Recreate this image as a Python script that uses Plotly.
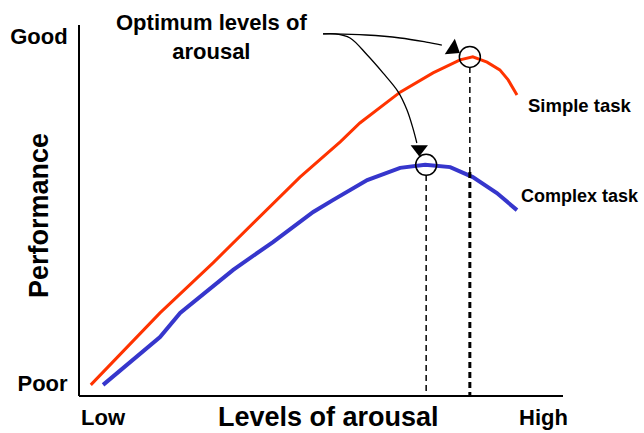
import plotly.graph_objects as go

# ---- data (axis units: x 0..100 = Low..High, y 0..100 = Poor..Good) ----
simple_x = [2.2, 16.3, 27.1, 34.6, 44.8, 53.0, 57.0, 65.2, 71.9, 77.4, 80.0, 82.9, 85.5, 87.2, 89.0]
simple_y = [3.0, 22.4, 35.9, 45.6, 59.0, 68.5, 73.6, 81.9, 87.1, 90.6, 91.4, 90.0, 87.9, 85.2, 81.1]

complex_x = [4.7, 16.3, 20.4, 31.2, 39.3, 47.5, 51.5, 58.5, 65.2, 70.3, 75.4, 80.0, 84.9, 89.0]
complex_y = [3.0, 15.9, 22.4, 34.0, 41.5, 49.6, 52.8, 58.2, 61.5, 62.3, 61.7, 59.0, 54.7, 50.1]

x_tick_vals = [4.7, 94.4]
x_tick_text = ["Low", "High"]
y_tick_vals = [3.5, 97.0]
y_tick_text = ["Poor", "Good"]

# optimum points (circles) and dashed drop lines
opt_x = [79.4, 70.5]
opt_y = [91.4, 62.3]

# curved arrows from the annotation text to the optimum circles
arrow1_x = [49.5, 51.5, 58.3, 65.2, 70.5, 73.7]
arrow1_y = [97.6, 97.6, 97.3, 96.5, 95.4, 94.6]
arrow2_x = [49.5, 52.0, 55.0, 58.5, 61.7, 64.8, 66.6, 67.8, 68.6]
arrow2_y = [97.6, 97.6, 96.5, 91.9, 87.1, 82.0, 77.1, 72.2, 68.2]
head_x = [76.0, 69.1]
head_y = [93.6, 66.6]
head_angle = [33, 0]

RED = "#FF3300"
BLUE = "#3636CC"
FONT = "Liberation Sans"

fig = go.Figure()

fig.add_trace(go.Scatter(x=simple_x, y=simple_y, mode="lines",
                         line=dict(color=RED, width=3), hoverinfo="skip"))
fig.add_trace(go.Scatter(x=complex_x, y=complex_y, mode="lines",
                         line=dict(color=BLUE, width=4), hoverinfo="skip"))

# dashed verticals
fig.add_trace(go.Scatter(x=[opt_x[0], opt_x[0]], y=[opt_y[0] - 2.7, 60.4], mode="lines",
                         line=dict(color="black", width=1.5, dash="6px,4px"), hoverinfo="skip"))
fig.add_trace(go.Scatter(x=[opt_x[0], opt_x[0]], y=[60.4, 0], mode="lines",
                         line=dict(color="black", width=3, dash="6px,4px"), hoverinfo="skip"))
fig.add_trace(go.Scatter(x=[opt_x[1], opt_x[1]], y=[opt_y[1] - 2.7, 0], mode="lines",
                         line=dict(color="black", width=1.5, dash="6px,4px"), hoverinfo="skip"))

# circles
fig.add_trace(go.Scatter(x=opt_x, y=opt_y, mode="markers",
                         marker=dict(symbol="circle-open", size=21,
                                     line=dict(color="black", width=1.5), color="black"),
                         hoverinfo="skip"))

# arrows
fig.add_trace(go.Scatter(x=arrow1_x, y=arrow1_y, mode="lines",
                         line=dict(color="black", width=1.3, shape="spline"), hoverinfo="skip"))
fig.add_trace(go.Scatter(x=arrow2_x, y=arrow2_y, mode="lines",
                         line=dict(color="black", width=1.3, shape="spline"), hoverinfo="skip"))
fig.add_trace(go.Scatter(x=[head_x[0]], y=[head_y[0]], mode="markers",
                         marker=dict(symbol="triangle-right", size=16, angle=head_angle[0], color="black"),
                         hoverinfo="skip"))
fig.add_trace(go.Scatter(x=[head_x[1]], y=[head_y[1]], mode="markers",
                         marker=dict(symbol="triangle-down", size=15, angle=head_angle[1], color="black"),
                         hoverinfo="skip"))

annotations = [
    dict(text="Optimum levels of<br>arousal", x=211, y=37.5,
         font=dict(family=FONT, size=22, color="black", weight="bold")),
    dict(text="Simple task", x=526, y=105, xanchor="left",
         font=dict(family=FONT, size=18.5, color="black", weight="bold")),
    dict(text="Complex task", x=519, y=196, xanchor="left",
         font=dict(family=FONT, size=18, color="black", weight="bold")),
    dict(text="Levels of arousal", x=328, y=417,
         font=dict(family=FONT, size=27, color="black", weight="bold")),
    dict(text="Performance", x=39, y=216, textangle=-90,
         font=dict(family=FONT, size=27, color="black", weight="bold")),
]
# convert pixel positions to paper coordinates
W, H = 644, 433
L, R, T, B = 80, 73, 25, 37
pw, ph = W - L - R, H - T - B
for a in annotations:
    px, py = a["x"], a["y"]
    a["x"] = (px - L) / pw
    a["y"] = (H - B - py) / ph
    a["xref"] = "paper"
    a["yref"] = "paper"
    a.setdefault("xanchor", "center")
    a["yanchor"] = "middle"
    a["showarrow"] = False

# x axis baseline (stops a little short of the plot's right edge, as in the reference)
x_line_end = (563 - L) / pw

fig.update_layout(
    width=W, height=H,
    margin=dict(l=L, r=R, t=T, b=B, autoexpand=False),
    paper_bgcolor="white", plot_bgcolor="white",
    showlegend=False,
    annotations=annotations,
    shapes=[dict(type="line", xref="paper", yref="paper", x0=-0.002, x1=x_line_end, y0=0, y1=0,
                 line=dict(color="black", width=2))],
    xaxis=dict(range=[0, 100], showgrid=False, zeroline=False, showline=False,
               ticks="", automargin=False,
               tickvals=x_tick_vals, ticktext=x_tick_text,
               tickfont=dict(family=FONT, size=22, color="black", weight="bold"),
               ticklabelstandoff=6, fixedrange=True),
    yaxis=dict(range=[0, 100], showgrid=False, zeroline=False, showline=True,
               linecolor="black", linewidth=2, ticks="", automargin=False,
               tickvals=y_tick_vals, ticktext=y_tick_text,
               tickfont=dict(family=FONT, size=22, color="black", weight="bold"),
               ticklabelstandoff=6, fixedrange=True),
)

fig.write_html("out.html", config={"displayModeBar": False},
               post_script="document.body.style.margin='0';document.body.style.overflow='hidden';")
